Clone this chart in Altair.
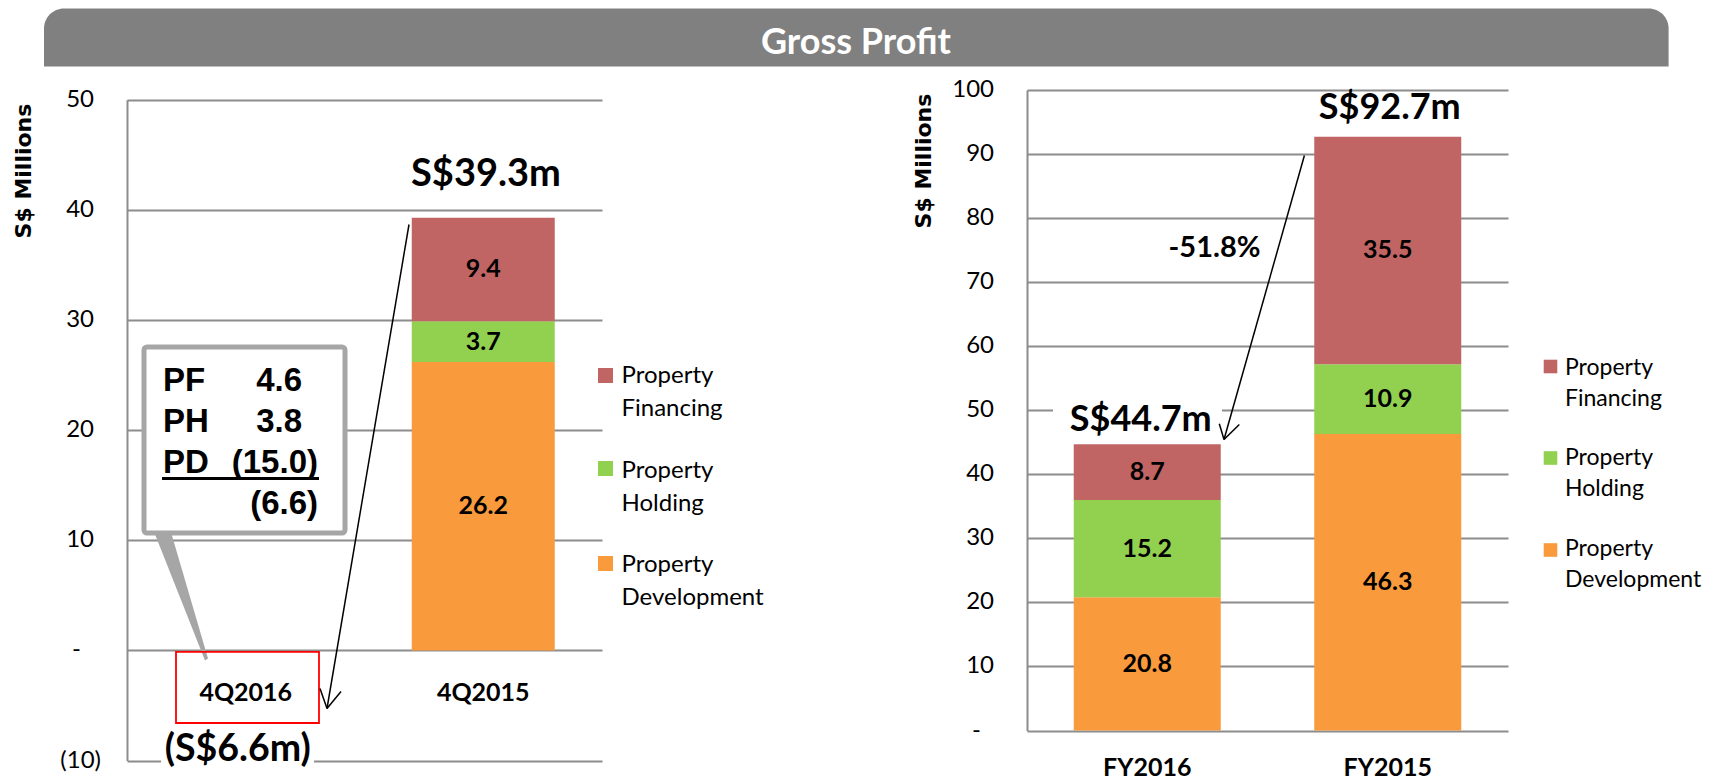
import altair as alt
import pandas as pd

# ---------------- data ----------------
SERIES = ["Property Development", "Property Holding", "Property Financing"]
LEGEND_TEXT = ["Property\nDevelopment", "Property\nHolding", "Property\nFinancing"]
COLORS = ["#F99A3C", "#92D050", "#C06464"]

Q_CATS = ["4Q2016", "4Q2015"]
Q_PD = [None, 26.2]
Q_PH = [None, 3.7]
Q_PF = [None, 9.4]
Q_TOTAL = [-6.6, 39.3]

# 4Q2016 breakdown shown in the call-out box
CALLOUT_LABELS = ["PF", "PH", "PD"]
CALLOUT_VALUES = [4.6, 3.8, -15.0]
CALLOUT_TOTAL = -6.6

FY_CATS = ["FY2016", "FY2015"]
FY_PD = [20.8, 46.3]
FY_PH = [15.2, 10.9]
FY_PF = [8.7, 35.5]
FY_TOTAL = [44.7, 92.7]
FY_CHANGE = -51.8

Q_TICKS = [-10, 0, 10, 20, 30, 40, 50]
FY_TICKS = [0, 10, 20, 30, 40, 50, 60, 70, 80, 90, 100]

GRID = "#8C8C8C"
FONT = "Lato"


def fmt_num(v):
    return f"({abs(v):.1f})" if v < 0 else f"{v:.1f}"


def fmt_total(v):
    return f"(S${abs(v):.1f}m)" if v < 0 else f"S${v:.1f}m"


def fmt_tick(v):
    if v == 0:
        return "-"
    return f"({abs(v)})" if v < 0 else f"{v}"


def stack_frame(cats, dev, hold, fin):
    rows = []
    for i, c in enumerate(cats):
        base = 0.0
        for s, vals in zip(SERIES, (dev, hold, fin)):
            v = vals[i]
            if v is None:
                continue
            rows.append(dict(cat=c, series=s, y0=base, y1=base + v,
                             mid=base + v / 2, label=f"{v:.1f}"))
            base += v
    return pd.DataFrame(rows)


ONE = pd.DataFrame({"k": [0]})


def vtext(x, y, text, size, weight="normal", align="center", baseline="alphabetic",
          color="black", font=FONT, **kw):
    return alt.Chart(ONE).mark_text(
        font=font, fontSize=size, fontWeight=weight, align=align,
        baseline=baseline, color=color, **kw
    ).encode(x=alt.value(x), y=alt.value(y), text=alt.value(text))


def vrule(x, y, x2, y2, color="black", width=1.5):
    return alt.Chart(ONE).mark_rule(color=color, strokeWidth=width).encode(
        x=alt.value(x), y=alt.value(y), x2=alt.value(x2), y2=alt.value(y2))


def vrect(x, y, x2, y2, **kw):
    return alt.Chart(ONE).mark_rect(**kw).encode(
        x=alt.value(x), y=alt.value(y), x2=alt.value(x2), y2=alt.value(y2))


def arrow(x0, y0, x1, y1, a1, a2):
    return [vrule(x0, y0, x1, y1), vrule(x1, y1, a1[0], a1[1]), vrule(x1, y1, a2[0], a2[1])]


def legend_layers(sq_x, sq_ys, sq_size, tx, ty, font_size, line_h):
    out = []
    for i in range(3):
        j = 2 - i  # financing on top
        out.append(alt.Chart(ONE).mark_square(size=sq_size, opacity=1, filled=True,
                                              color=COLORS[j]).encode(
            x=alt.value(sq_x), y=alt.value(sq_ys[i])))
        out.append(vtext(tx, ty[i], LEGEND_TEXT[j], font_size, align="left",
                         lineBreak="\n", lineHeight=line_h))
    return out


def panel(cats, stack, ydom, yrange, height, width, ticks, bar_size,
          xoff, xpad, title_xy, extra_layers, totals_layers_fn):
    yaxis = alt.Axis(values=ticks, labels=False, grid=True, gridColor=GRID,
                     gridWidth=2, domainColor=GRID, domainWidth=2, ticks=False,
                     tickSize=0, title="S$ Millions", titleFont="DejaVu Sans",
                     titleFontWeight="bold", titleFontSize=22, titleColor="black",
                     titleAngle=270, titleX=title_xy[0], titleY=title_xy[1],
                     titleAlign="center", titleBaseline="middle")
    yscale = alt.Scale(domain=ydom, range=yrange, nice=False, zero=False)
    xaxis = alt.Axis(title=None, orient="bottom", offset=xoff, domain=False, ticks=False,
                     tickSize=0, labelPadding=xpad, labelBaseline="alphabetic",
                     labelFont=FONT, labelFontSize=25, labelFontWeight="bold",
                     labelColor="black", labelAngle=0, grid=False)
    xscale = alt.Scale(domain=cats, paddingInner=0, paddingOuter=0)
    X = alt.X("cat:N", sort=cats, scale=xscale, axis=xaxis)

    bars = alt.Chart(stack).mark_bar(size=bar_size).encode(
        x=X,
        y=alt.Y("y0:Q", scale=yscale, axis=yaxis),
        y2="y1:Q",
        color=alt.Color("series:N", scale=alt.Scale(domain=SERIES, range=COLORS),
                        legend=None),
    )
    seg = alt.Chart(stack).mark_text(font=FONT, fontSize=25, fontWeight="bold",
                                     color="black", baseline="middle").encode(
        x=X, y=alt.Y("mid:Q", scale=yscale, axis=yaxis), text="label:N")

    # tick labels in accounting style (positive / zero / negative aligned differently)
    tick_df = pd.DataFrame({"v": ticks, "t": [fmt_tick(v) for v in ticks]})
    tick_layers = []
    for cond, xr in (("datum.v > 0", -33), ("datum.v == 0", -46), ("datum.v < 0", -26)):
        tick_layers.append(
            alt.Chart(tick_df).transform_filter(cond).mark_text(
                font=FONT, fontSize=24, color="black", align="right", baseline="middle"
            ).encode(x=alt.value(xr), y=alt.Y("v:Q", scale=yscale, axis=yaxis),
                     text="t:N"))

    def total_text(cat, val, ypos, dx, dy, size):
        df = pd.DataFrame({"cat": [cat], "pos": [ypos], "text": [fmt_total(val)]})
        return alt.Chart(df).mark_text(font=FONT, fontSize=size, fontWeight="bold",
                                       color="black", baseline="alphabetic",
                                       dx=dx, dy=dy).encode(
            x=X, y=alt.Y("pos:Q", scale=yscale, axis=yaxis), text="text:N")

    layers = ([bars] + extra_layers[0] + totals_layers_fn(total_text) + [seg]
              + tick_layers + extra_layers[1])
    return alt.layer(*layers).properties(width=width, height=height)


# ---------------- left panel (quarter) ----------------
q_stack = stack_frame(Q_CATS, Q_PD, Q_PH, Q_PF)

q_under = [
    vrect(34, 660, 187, 680, color="white"),             # mask behind (S$6.6m)
]

callout_rows_y = [300.5, 341.5, 382.5]
q_over = []
# call-out pointer + box
q_over.append(alt.Chart(ONE).mark_point(
    shape="M-8.5,-3L8.5,-3L46,125L43,127Z", size=4, filled=True, opacity=1,
    color="#A6A6A6").encode(x=alt.value(35), y=alt.value(443.5)))
q_over.append(vrect(17, 257, 218, 443, fill="white", stroke="#A6A6A6",
                    strokeWidth=5, cornerRadius=3))
for lab, val, yy in zip(CALLOUT_LABELS, CALLOUT_VALUES, callout_rows_y):
    q_over.append(vtext(36, yy, lab, 33, "bold", "left", font="Liberation Sans"))
    q_over.append(vtext(191 if val < 0 else 175, yy, fmt_num(val), 33, "bold", "right",
                        font="Liberation Sans"))
q_over.append(vrule(35, 388.5, 192, 388.5, width=3))
q_over.append(vtext(191, 423.5, fmt_num(CALLOUT_TOTAL), 33, "bold", "right",
                    font="Liberation Sans"))
# red box around 4Q2016
q_over.append(vrect(49, 561.8, 192, 633, fill=None, fillOpacity=0, stroke="#FF0000",
                    strokeWidth=1.8))
# arrow
q_over += arrow(282, 134.5, 200, 618.5, (193, 598.5), (214, 601.5))
# legend
q_over += legend_layers(478.5, [285.5, 378.5, 473.5], 225, 494.5,
                        [292.5, 387.5, 481.5], 24, 33)
# banner + title
q_over.append(vrect(-83, -81.5, 1541.6, -23.5, color="#808080",
                    cornerRadiusTopLeft=20, cornerRadiusTopRight=20))
q_over.append(vtext(729, -36.2, "Gross Profit", 36, "bold", color="white"))
# invisible left anchor
q_over.append(vrect(-119, 300, -118, 301, color="white", opacity=0))


def q_totals(total_text):
    return [
        total_text(Q_CATS[0], Q_TOTAL[0], -10, -8, 0, 37.5),
        total_text(Q_CATS[1], Q_TOTAL[1], Q_TOTAL[1], 2.7, -32, 38),
    ]


left = panel(Q_CATS, q_stack, [-10, 50], [670.6, 9.8], 670.6, 475, Q_TICKS, 143,
             -110, 50, (-104, 80.5), (q_under, q_over), q_totals)

# ---------------- right panel (full year) ----------------
fy_stack = stack_frame(FY_CATS, FY_PD, FY_PH, FY_PF)

fy_under = [vrect(26, 310.5, 195, 335.5, color="white")]   # mask behind S$44.7m
fy_over = []
fy_over.append(vtext(187.5, 157.5, f"{FY_CHANGE:.1f}%", 29, "bold", baseline="middle"))
fy_over += arrow(277.4, 65.5, 197, 349.5, (192.3, 333.8), (212.3, 334.5))
fy_over += legend_layers(523.5, [276.5, 368, 460], 185, 538,
                         [284.5, 374.8, 466.2], 23, 31)


def fy_totals(total_text):
    return [
        total_text(FY_CATS[0], FY_TOTAL[0], FY_TOTAL[0], -6.5, -13.4, 36),
        total_text(FY_CATS[1], FY_TOTAL[1], FY_TOTAL[1], 2, -18, 36),
    ]


right = panel(FY_CATS, fy_stack, [0, 100], [640.5, 0], 640.5, 481, FY_TICKS, 147,
              0, 45, (-103.5, 70.5), (fy_under, fy_over), fy_totals)

chart = alt.hconcat(left, right, spacing=425, bounds="flush").properties(
    padding=0, background="white"
).configure_view(stroke=None)

chart.save("out.html", embed_options={"renderer": "svg", "actions": False})
